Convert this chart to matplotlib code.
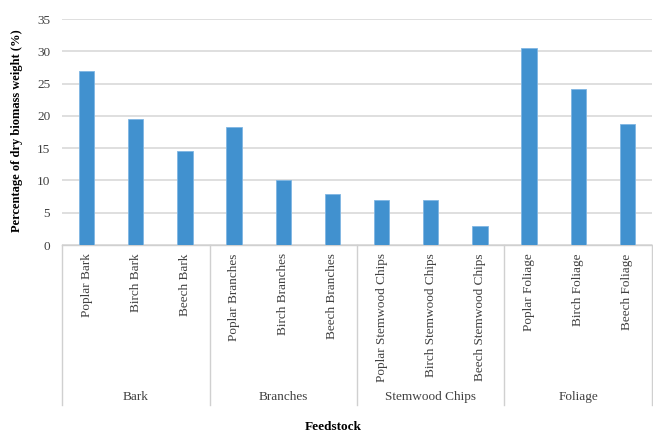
import matplotlib
matplotlib.use("Agg")
import matplotlib.pyplot as plt
from matplotlib.transforms import blended_transform_factory

# Feedstock composition data
groups = ["Bark", "Branches", "Stemwood Chips", "Foliage"]
categories = [
    "Poplar Bark", "Birch Bark", "Beech Bark",
    "Poplar Branches", "Birch Branches", "Beech Branches",
    "Poplar Stemwood Chips", "Birch Stemwood Chips", "Beech Stemwood Chips",
    "Poplar Foliage", "Birch Foliage", "Beech Foliage",
]
values = [27.0, 19.5, 14.5, 18.2, 10.0, 7.9, 7.0, 6.9, 3.0, 30.5, 24.1, 18.7]
yticks = [0, 5, 10, 15, 20, 25, 30, 35]

plt.rcParams["font.family"] = ["Liberation Serif", "DejaVu Serif"]

W, H = 653, 432
fs = 9.5
fig = plt.figure(figsize=(W / 100, H / 100), dpi=100)
left, right, bottom, top = 62, 652, 245, 19
ax = fig.add_axes([left / W, 1 - bottom / H, (right - left) / W, (bottom - top) / H])

x = list(range(len(categories)))
ax.bar(x, values, width=0.31, color="#4191CF", edgecolor="#7fb6e3", linewidth=0.6, zorder=3)

ax.set_xlim(-0.5, len(categories) - 0.5)
ax.set_ylim(0, 35)
ax.set_yticks(yticks)
ax.set_yticklabels([str(t) for t in yticks], fontsize=fs, color="#404040")
ax.tick_params(axis="y", length=0, pad=8.5)
ax.yaxis.grid(True, color="#d9d9d9", linewidth=1.2, zorder=0)
ax.set_axisbelow(True)

for s in ["top", "right", "left"]:
    ax.spines[s].set_visible(False)
ax.spines["bottom"].set_color("#d0d0d0")
ax.spines["bottom"].set_linewidth(1.0)

ax.set_xticks(x)
ax.set_xticklabels(categories, rotation=90, fontsize=fs, color="#404040", va="top")
ax.tick_params(axis="x", length=0, pad=6)

# Group dividers and group labels below the category labels
trans = blended_transform_factory(ax.transData, ax.transAxes)
axh = bottom - top
line_bottom = -(405 - bottom) / axh
label_y = -(397 - bottom) / axh
n_per = 3
for gi, g in enumerate(groups):
    start = gi * n_per - 0.5
    ax.plot([start, start], [0, line_bottom], transform=trans, color="#d0d0d0",
            linewidth=1.0, clip_on=False)
    ax.text(gi * n_per + 1, label_y, g, transform=trans, ha="center", va="center",
            fontsize=fs, color="#404040")
end = len(categories) - 0.5
ax.plot([end, end], [0, line_bottom], transform=trans, color="#d0d0d0",
        linewidth=1.0, clip_on=False)

fig.text(17 / W, 1 - 131 / H, "Percentage of dry biomass weight (%)", rotation=90,
         ha="center", va="center", fontsize=9, fontweight="bold", color="#000000")
fig.text(333 / W, 1 - 427 / H, "Feedstock", ha="center", va="center",
         fontsize=fs, fontweight="bold", color="#000000")

fig.savefig("out.png", dpi=100)
